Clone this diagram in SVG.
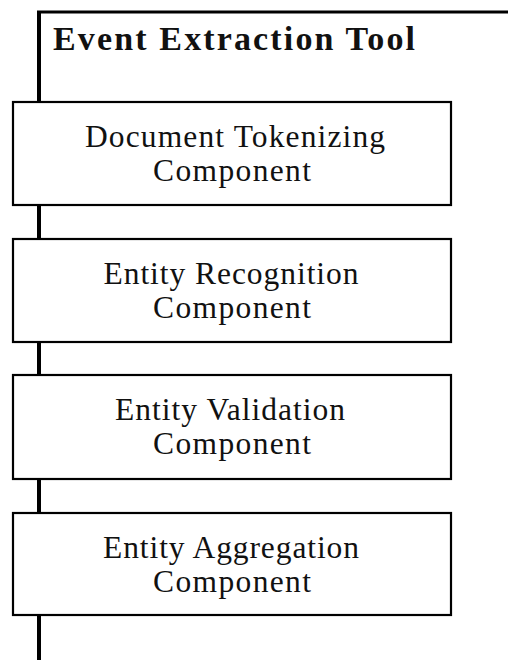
<svg xmlns="http://www.w3.org/2000/svg" width="508" height="660" viewBox="0 0 508 660">
<style>
.box{fill:#fff;stroke:#000;stroke-width:2.2}
.lbl{font-family:"Liberation Serif","Times New Roman",serif;font-size:31.5px;fill:#111;text-anchor:middle}
.title{font-family:"Liberation Serif","Times New Roman",serif;font-size:34px;font-weight:bold;fill:#111}
.spine{stroke:#000;fill:none}
</style>
<rect width="508" height="660" fill="#fff"/>
<g id="connectors">
<line class="spine" x1="39" y1="11" x2="39" y2="660" stroke-width="4"/>
<line class="spine" x1="37" y1="12" x2="508" y2="12" stroke-width="3"/>
</g>
<g id="title">
<text class="title" x="53" y="50" textLength="362" lengthAdjust="spacing">Event Extraction Tool</text>
</g>
<g id="doc-tokenizing">
<rect class="box" x="13" y="102" width="438" height="103"/>
<text class="lbl" x="235" y="147" textLength="300" lengthAdjust="spacing">Document Tokenizing</text>
<text class="lbl" x="232" y="181" textLength="158" lengthAdjust="spacing">Component</text>
</g>
<g id="entity-recognition">
<rect class="box" x="13" y="239" width="438" height="103"/>
<text class="lbl" x="231" y="284" textLength="255" lengthAdjust="spacing">Entity Recognition</text>
<text class="lbl" x="232" y="318" textLength="158" lengthAdjust="spacing">Component</text>
</g>
<g id="entity-validation">
<rect class="box" x="13" y="375" width="438" height="104"/>
<text class="lbl" x="230" y="420" textLength="230" lengthAdjust="spacing">Entity Validation</text>
<text class="lbl" x="232" y="454" textLength="158" lengthAdjust="spacing">Component</text>
</g>
<g id="entity-aggregation">
<rect class="box" x="13" y="513" width="438" height="102"/>
<text class="lbl" x="231" y="558" textLength="256" lengthAdjust="spacing">Entity Aggregation</text>
<text class="lbl" x="232" y="592" textLength="158" lengthAdjust="spacing">Component</text>
</g>
</svg>
